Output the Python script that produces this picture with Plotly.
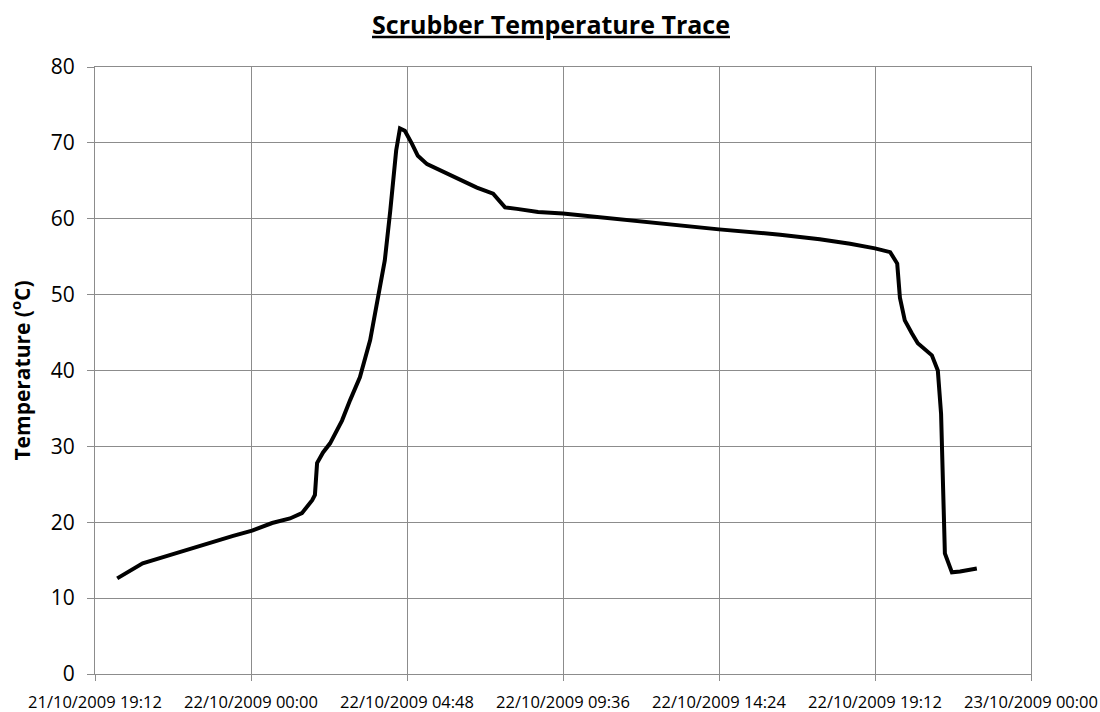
import plotly.graph_objects as go

times = [
    "2009-10-21 19:53", "2009-10-21 20:22", "2009-10-21 20:40", "2009-10-21 21:36",
    "2009-10-21 22:39", "2009-10-21 23:27", "2009-10-22 00:02", "2009-10-22 00:39",
    "2009-10-22 01:12", "2009-10-22 01:34", "2009-10-22 01:53", "2009-10-22 01:58",
    "2009-10-22 02:02", "2009-10-22 02:13", "2009-10-22 02:26", "2009-10-22 02:48",
    "2009-10-22 03:03", "2009-10-22 03:21", "2009-10-22 03:40", "2009-10-22 03:54",
    "2009-10-22 04:07", "2009-10-22 04:17", "2009-10-22 04:28", "2009-10-22 04:35",
    "2009-10-22 04:44", "2009-10-22 04:57", "2009-10-22 05:08", "2009-10-22 05:25",
    "2009-10-22 06:02", "2009-10-22 06:20", "2009-10-22 06:57", "2009-10-22 07:27",
    "2009-10-22 07:36", "2009-10-22 07:49", "2009-10-22 08:11", "2009-10-22 08:50",
    "2009-10-22 09:36", "2009-10-22 10:44", "2009-10-22 12:17", "2009-10-22 14:24",
    "2009-10-22 16:17", "2009-10-22 17:30", "2009-10-22 18:26", "2009-10-22 19:12",
    "2009-10-22 19:40", "2009-10-22 19:53", "2009-10-22 19:58", "2009-10-22 20:07",
    "2009-10-22 20:20", "2009-10-22 20:31", "2009-10-22 20:57", "2009-10-22 21:08",
    "2009-10-22 21:14", "2009-10-22 21:21", "2009-10-22 21:34", "2009-10-22 21:49",
    "2009-10-22 22:20",
]
temps = [
    12.6, 13.9, 14.6, 15.8,
    17.2, 18.2, 18.9, 19.9,
    20.5, 21.2, 22.9, 23.6,
    27.8, 29.2, 30.4, 33.4,
    36.1, 39.1, 44.0, 49.6,
    54.5, 61.0, 69.0, 71.9,
    71.6, 69.9, 68.3, 67.2,
    65.9, 65.3, 64.1, 63.3,
    62.6, 61.5, 61.3, 60.9,
    60.7, 60.2, 59.5, 58.6,
    57.9, 57.3, 56.7, 56.1,
    55.6, 54.1, 49.6, 46.6,
    44.9, 43.6, 42.0, 40.0,
    34.3, 15.9, 13.4, 13.5,
    13.9,
]

x_range = ["2009-10-21 19:12", "2009-10-23 00:00"]
y_range = [0, 80]

fig = go.Figure()
fig.add_trace(go.Scatter(
    x=times, y=temps, mode="lines",
    line=dict(color="black", width=4),
    showlegend=False,
))

grid = "#8c8c8c"
fig.update_layout(
    width=1100, height=712,
    paper_bgcolor="white", plot_bgcolor="white",
    margin=dict(l=95, r=69, t=67, b=38, autoexpand=False),
    title=dict(
        text="<b><u>Scrubber Temperature Trace</u></b>",
        x=551 / 1100, xanchor="center", xref="container",
        y=1 - 25 / 712, yanchor="middle", yref="container",
        font=dict(family="Open Sans", size=25, color="black"),
    ),
    font=dict(family="Open Sans", color="black"),
)
fig.update_xaxes(
    type="date", range=x_range, automargin=False,
    tick0="2009-10-21 19:12", dtick=4.8 * 3600 * 1000,
    tickformat="%d/%m/%Y %H:%M",
    showgrid=True, gridcolor=grid, gridwidth=1,
    showline=True, linecolor=grid, linewidth=1, mirror=True,
    ticks="outside", ticklen=6, tickcolor=grid,
    ticklabelstandoff=7,
    tickfont=dict(family="Open Sans", size=16.5, color="black"),
    zeroline=False,
)
fig.update_yaxes(
    range=y_range, dtick=10, automargin=False,
    showgrid=True, gridcolor=grid, gridwidth=1,
    showline=True, linecolor=grid, linewidth=1, mirror=True,
    ticks="outside", ticklen=7, tickcolor=grid,
    ticklabelstandoff=8,
    tickfont=dict(family="Open Sans", size=21, color="black"),
    title=dict(text="<b>Temperature (<sup>o</sup>C)</b>",
               font=dict(family="Open Sans", size=21, color="black"),
               standoff=14),
    zeroline=False,
)
fig.write_html(
    "out.html",
    config={"displayModeBar": False},
    post_script="document.body.style.margin='0';document.body.style.overflow='hidden';",
)
